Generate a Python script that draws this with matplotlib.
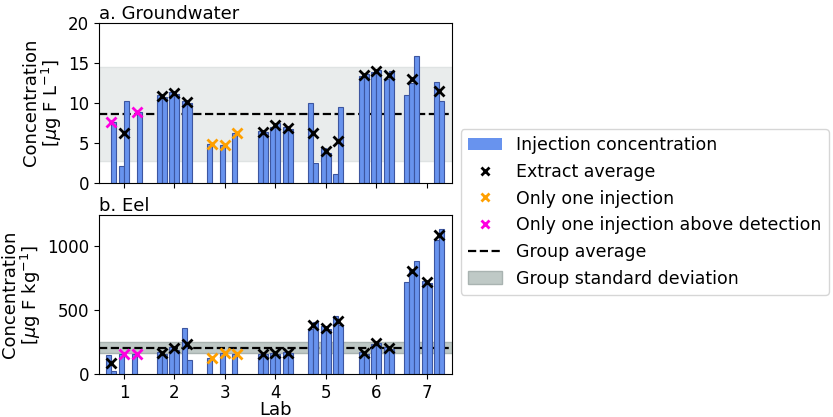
import numpy as np
import matplotlib
matplotlib.use('Agg')
import matplotlib.pyplot as plt
from matplotlib.patches import Patch
from matplotlib.lines import Line2D

nan = np.nan

labs = [1, 2, 3, 4, 5, 6, 7]

# injections per lab -> extract -> injection (nan = below detection / missing)
gw_inj = [
    [[nan, 7.6], [2.1, 10.2], [nan, 8.8]],
    [[10.9, 10.7], [11.3, 11.1], [10.2, 10.0]],
    [[4.8, nan], [4.7, nan], [6.2, nan]],
    [[6.4, 6.3], [6.9, 7.5], [6.9, 6.7]],
    [[10.0, 2.4], [4.3, 3.7], [1.1, 9.4]],
    [[13.3, 13.6], [13.8, 14.1], [12.9, 13.9]],
    [[10.9, 12.4, 15.8], [], [12.6, 10.2]],
]
gw_avg = [[7.6, 6.2, 8.8], [10.8, 11.2, 10.1], [4.8, 4.7, 6.2], [6.3, 7.2, 6.8],
          [6.2, 4.0, 5.2], [13.4, 14.0, 13.4], [13.0, nan, 11.4]]
gw_kind = [['det', 'avg', 'det'], ['avg', 'avg', 'avg'], ['one', 'one', 'one'],
           ['avg', 'avg', 'avg'], ['avg', 'avg', 'avg'], ['avg', 'avg', 'avg'],
           ['avg', None, 'avg']]
gw_mean, gw_sd = 8.6, 5.86

eel_inj = [
    [[151, 23], [155, nan], [155, nan]],
    [[175, 155], [215, 190], [364, 109]],
    [[130, nan], [170, nan], [158, nan]],
    [[162, 158], [165, 162], [175, 165]],
    [[354, 412], [375, 355], [455, 382]],
    [[175, 160], [237, 247], [216, 198]],
    [[723, 816, 888], [730, 715], [1049, 1135]],
]
eel_avg = [[87, 155, 155], [165, 202, 237], [130, 170, 158], [160, 164, 170],
           [383, 365, 418], [167, 242, 207], [809, 722, 1092]]
eel_kind = [['avg', 'det', 'det'], ['avg', 'avg', 'avg'], ['one', 'one', 'one'],
            ['avg', 'avg', 'avg'], ['avg', 'avg', 'avg'], ['avg', 'avg', 'avg'],
            ['avg', 'avg', 'avg']]
eel_mean, eel_sd = 209, 45.5

bar_color = '#6893ee'
bar_edge = '#3d56a0'
kind_color = {'avg': 'black', 'one': '#ffa000', 'det': '#ff00e0'}

plt.rcParams['font.size'] = 12

fig = plt.figure(figsize=(8.33, 4.17), dpi=100)
ax1 = fig.add_axes([0.1185, 0.562, 0.424, 0.3836])
ax2 = fig.add_axes([0.1185, 0.1024, 0.424, 0.382])

offsets = [-0.25, 0.0, 0.25]
w = 0.1


def draw(ax, inj, avg, kind, mean, sd, band_face, band_edge):
    ax.axhspan(mean - sd, mean + sd, facecolor=band_face, edgecolor=band_edge, zorder=0)
    ax.axhline(mean, color='black', ls='--', lw=1.6, zorder=1)
    for lab, extracts, avgs, kinds in zip(labs, inj, avg, kind):
        for off, vals, a, k in zip(offsets, extracts, avgs, kinds):
            n = len(vals)
            if n == 0:
                continue
            c = lab + off
            lefts = [c - w * (n - 1) + i * w for i in range(n)]
            ax.bar(lefts, vals, width=w, align='edge', color=bar_color,
                   edgecolor=bar_edge, linewidth=0.8, zorder=2)
            if k is not None:
                ax.plot(c - w * (n - 2) / 2, a, 'x', color=kind_color[k],
                        markersize=7, mew=2, zorder=3)
    ax.set_xlim(0.5, 7.5)
    ax.set_xticks(labs)


draw(ax1, gw_inj, gw_avg, gw_kind, gw_mean, gw_sd, '#e9ecec', '#dfe3e3')
draw(ax2, eel_inj, eel_avg, eel_kind, eel_mean, eel_sd, '#bfc9c6', '#a9b3b1')

ax1.set_ylim(0, 20)
ax1.set_yticks([0, 5, 10, 15, 20])
ax1.set_xticklabels([])
ax1.set_title('a. Groundwater', loc='left', fontsize=13, pad=3)
ax1.set_ylabel('Concentration\n[$\\mu$g F L$^{-1}$]', fontsize=13, linespacing=1.0, labelpad=3)

ax2.set_ylim(0, 1245)
ax2.set_yticks([0, 500, 1000])
ax2.set_title('b. Eel', loc='left', fontsize=13, pad=3)
ax2.set_ylabel('Concentration\n[$\\mu$g F kg$^{-1}$]', fontsize=13, linespacing=1.0, labelpad=3)
ax2.set_xlabel('Lab', fontsize=13, labelpad=-1)

handles = [
    Patch(facecolor=bar_color, label='Injection concentration'),
    Line2D([], [], marker='x', color='black', ls='none', markersize=6, mew=2, label='Extract average'),
    Line2D([], [], marker='x', color=kind_color['one'], ls='none', markersize=6, mew=2, label='Only one injection'),
    Line2D([], [], marker='x', color=kind_color['det'], ls='none', markersize=6, mew=2,
           label='Only one injection above detection'),
    Line2D([], [], color='black', ls='--', lw=1.6, label='Group average'),
    Patch(facecolor='#bfc9c6', edgecolor='#a9b3b1', label='Group standard deviation'),
]
fig.legend(handles=handles, loc='upper left', bbox_to_anchor=(0.553, 0.69),
           bbox_transform=fig.transFigure, borderaxespad=0, fontsize=12.5)

fig.savefig('out.png', dpi=100)
